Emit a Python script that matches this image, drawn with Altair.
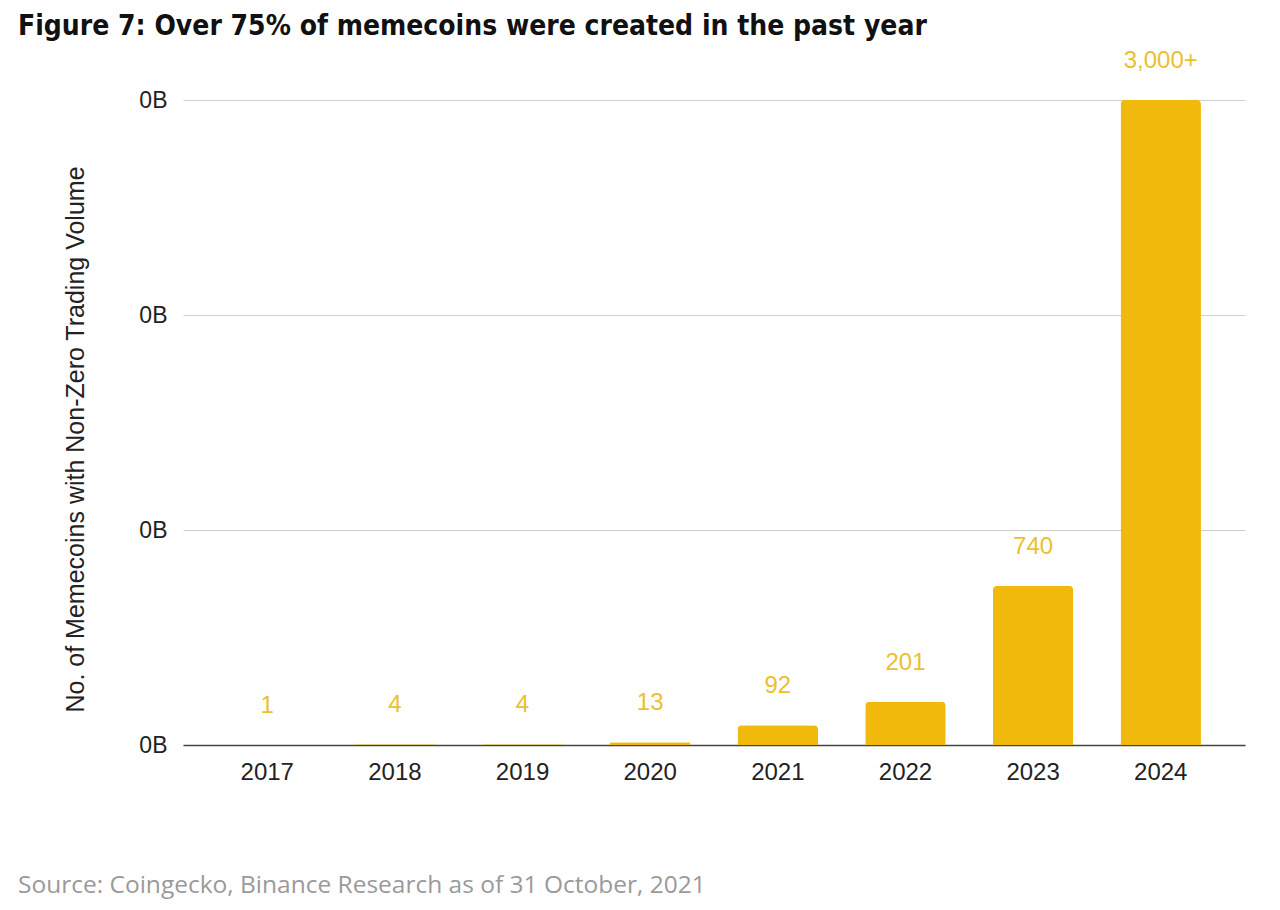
import altair as alt
import pandas as pd

years = ["2017", "2018", "2019", "2020", "2021", "2022", "2023", "2024"]
counts = [1, 4, 4, 13, 92, 201, 740, 3000]
labels = ["1", "4", "4", "13", "92", "201", "740", "3,000+"]
y_ticks = [0, 1000, 2000, 3000]

title_text = "Figure 7: Over 75% of memecoins were created in the past year"
source_text = "Source: Coingecko, Binance Research as of 31 October, 2021"
y_title = "No. of Memecoins with Non-Zero Trading Volume"

df = pd.DataFrame({"year": years, "count": counts, "label": labels})

W, H = 1062, 645
SANS = "Liberation Sans, Arial, sans-serif"

x_enc = alt.X(
    "year:N",
    sort=years,
    scale=alt.Scale(paddingInner=0.37, paddingOuter=0.345),
    axis=alt.Axis(
        title=None,
        labelAngle=0,
        labelFont=SANS,
        labelFontSize=24,
        labelColor="#222222",
        labelPadding=15,
        ticks=False,
        domainColor="#444444",
        domainWidth=1.5,
        grid=False,
    ),
)

y_enc = alt.Y(
    "count:Q",
    scale=alt.Scale(domain=[0, 3000], nice=False),
    axis=alt.Axis(
        values=y_ticks,
        labelExpr="'0B'",
        labelFont=SANS,
        labelFontSize=23,
        labelColor="#222222",
        labelPadding=16,
        ticks=False,
        domain=False,
        gridColor="#d0d0d0",
        gridWidth=1.2,
        title=y_title,
        titleFont=SANS,
        titleFontSize=25,
        titleFontWeight="normal",
        titleColor="#222222",
        titleAngle=-90,
        titleX=-108,
        titleY=339,
        titleAlign="center",
        titleBaseline="middle",
    ),
)

bars = alt.Chart(df).mark_bar(
    color="#F0B90B", cornerRadiusTopLeft=4, cornerRadiusTopRight=4
).encode(x=x_enc, y=y_enc)

text = alt.Chart(df).mark_text(
    dy=-39,
    color="#EBC030",
    fontSize=24,
    font=SANS,
    baseline="middle",
).encode(x=alt.X("year:N", sort=years), y=alt.Y("count:Q"), text="label:N")

source = alt.Chart(pd.DataFrame({"t": [source_text]})).mark_text(
    align="left",
    baseline="middle",
    color="#9a9a9a",
    fontSize=24.5,
    font="Open Sans, Noto Sans, sans-serif",
).encode(x=alt.value(-165), y=alt.value(786), text="t:N")

chart = (
    alt.layer(bars, text, source)
    .properties(
        width=W,
        height=H,
        padding={"left": 175, "top": 92, "right": 27, "bottom": 157},
        autosize=alt.AutoSizeParams(type="none"),
        title=alt.TitleParams(
            text=title_text,
            anchor="start",
            frame="group",
            dx=-165,
            offset=8,
            fontSize=28,
            fontWeight="bold",
            font="Liberation Sans Narrow, DejaVu Sans Condensed, Roboto, sans-serif",
            color="#111111",
        ),
    )
    .configure_view(stroke=None)
)

chart.save("out.html", embed_options={"renderer": "svg", "actions": False})
